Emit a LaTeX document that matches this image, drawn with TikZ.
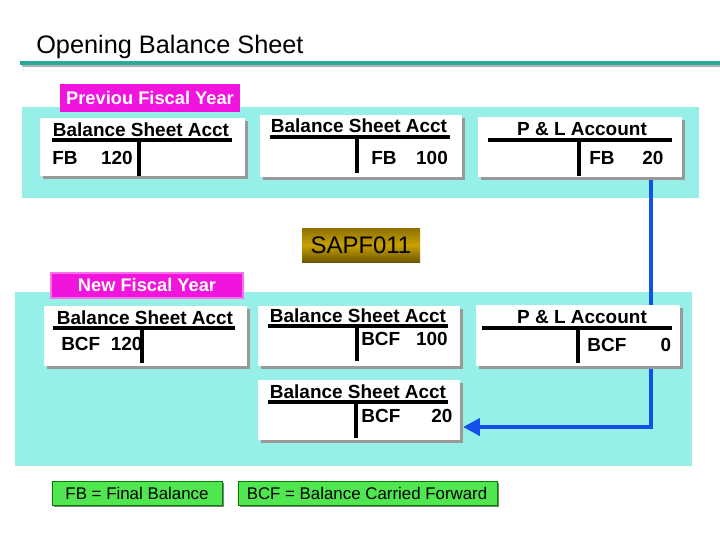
\documentclass[tikz,border=0pt]{standalone}
\usepackage{fontspec}
\setmainfont{Liberation Sans}
\usetikzlibrary{arrows.meta,shadows}
\definecolor{bandcol}{RGB}{150,240,232}
\definecolor{magcol}{RGB}{240,20,220}
\definecolor{arrcol}{RGB}{20,80,235}
\definecolor{legcol}{RGB}{80,230,80}
\definecolor{titleline}{RGB}{40,170,150}
\definecolor{goldcol}{RGB}{200,160,0}
\begin{document}
\begin{tikzpicture}[x=0.25mm,y=-0.25mm]
	%defines
	\tikzset{acct/.style={draw=none, fill=white, drop shadow={shadow xshift=2pt, shadow yshift=-2pt, fill=gray!80, opacity=1}},
		txt/.style={font=\fontsize{13.5}{15}\selectfont\bfseries, inner sep=0pt},
		rule/.style={line width=2.2pt},
		tag/.style={text=white, font=\fontsize{13}{15}\selectfont\bfseries, inner sep=0pt},
		legend/.style={draw=green!50!black, fill=legcol, drop shadow={shadow xshift=1.5pt, shadow yshift=-1.5pt, fill=gray, opacity=1}},
		legtxt/.style={font=\fontsize{12}{14}\selectfont, inner sep=0pt},
		flow/.style={arrcol, line width=3pt, -{Triangle[length=12pt,width=12pt]}}}
	\useasboundingbox (0,0) rectangle (720,540);
	%title
	\node (title) [anchor=base west, inner sep=0pt, font=\fontsize{18}{20}\selectfont] at (36,53) {Opening Balance Sheet};
	\draw [gray!60, line width=2pt] (22,66) -- (720,66);
	\draw [titleline, line width=2.5pt] (20,63) -- (720,63);
	%bands
	\fill [bandcol] (22,107) rectangle (699,198);
	\fill [bandcol] (15,292) rectangle (692,466);
	\fill [magcol] (60,84) rectangle (240,112);
	\node (prevlbl) [tag] at (150,98) {Previou Fiscal Year};
	\fill [magcol!60] (50,272) rectangle (244,299);
	\fill [magcol] (52,274) rectangle (242,297);
	\node (newlbl) [tag] at (147,285) {New Fiscal Year};
	%blue transfer
	\coordinate (down) at (651,427);
	\draw [flow] (651,177) -- (down) -- (463,427);
	%previous year
	\path [acct] (40,118) rectangle (245,176);
	\node (bs1) [txt] at (141,130) {Balance Sheet Acct};
	\draw [rule] (52,140) -- (232,140) (139,140) -- (139,176);
	\node [txt, anchor=west] at (52,158) {FB};
	\node [txt, anchor=east] at (133,158) {120};
	\path [acct] (260,115) rectangle (462,177);
	\node (bs2) [txt] at (359,126) {Balance Sheet Acct};
	\draw [rule] (270,137) -- (450,137) (357,137) -- (357,173);
	\node [txt] at (384,158) {FB};
	\node [txt] at (432,158) {100};
	\path [acct] (478,117) rectangle (682,177);
	\node (pl1) [txt] at (582,129) {P \& L Account};
	\draw [rule] (488,140) -- (672,140) (579,140) -- (579,176);
	\node [txt] at (602,158) {FB};
	\node [txt] at (653,158) {20};
	%program
	\shade [top color=goldcol!70!black, bottom color=goldcol!55!black, middle color=goldcol] (302,228) rectangle (420,262);
	\node (sapf) [inner sep=0pt, font=\fontsize{17}{19}\selectfont] at (361,245) {SAPF011};
	%new year
	\path [acct] (44,306) rectangle (247,366);
	\node (bs4) [txt] at (145,318) {Balance Sheet Acct};
	\draw [rule] (53,328) -- (235,328) (142,328) -- (142,363);
	\node [txt, anchor=west] at (61,344) {BCF\ \ 120};
	\path [acct] (258,306) rectangle (460,366);
	\node (bs5) [txt] at (358,316) {Balance Sheet Acct};
	\draw [rule] (268,326) -- (448,326) (357,326) -- (357,361);
	\node [txt, anchor=west] at (361,339) {BCF\ \ \ 100};
	\path [acct] (476,305) rectangle (680,366);
	\node (pl2) [txt] at (582,317) {P \& L Account};
	\draw [rule] (482,328) -- (672,328) (578,328) -- (578,363);
	\node [txt] at (607,345) {BCF};
	\node [txt] at (666,345) {0};
	\path [acct] (258,380) rectangle (460,440);
	\node (bs7) [txt] at (358,392) {Balance Sheet Acct};
	\draw [rule] (268,402) -- (448,402) (356,402) -- (356,438);
	\node [txt] at (381,416) {BCF};
	\node [txt] at (442,416) {20};
	%legend
	\path [legend] (52,481) rectangle (222,505);
	\node (fbleg) [legtxt] at (137,493) {FB = Final Balance};
	\path [legend] (238,481) rectangle (497,505);
	\node (bcfleg) [legtxt] at (367,493) {BCF = Balance Carried Forward};
\end{tikzpicture}
\end{document}
